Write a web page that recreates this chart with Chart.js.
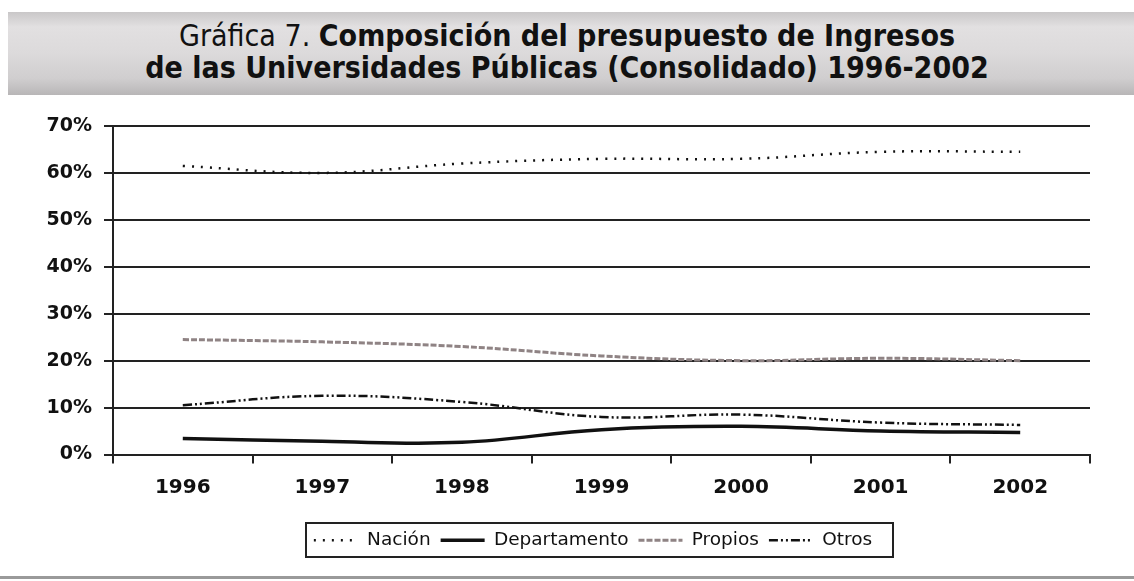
<!DOCTYPE html>
<html>
<head>
<meta charset="utf-8">
<script src="https://cdn.jsdelivr.net/npm/chart.js@4.4.0/dist/chart.umd.min.js"></script>
<style>
  html, body { margin: 0; padding: 0; background: #fff; }
  body { width: 1134px; height: 581px; position: relative; overflow: hidden; }
  #band {
    position: absolute; left: 8px; top: 12px; width: 1126px; height: 83px;
    background: linear-gradient(180deg, #c9c7c8 0%, #e2e0e1 18%, #dcdadb 50%, #d0cecf 80%, #b8b6b7 100%);
  }
  #title {
    position: absolute; left: 0; top: 20px; width: 1134px; text-align: center;
    font-family: "DejaVu Sans", sans-serif; font-stretch: condensed;
    font-size: 30px; line-height: 32px; color: #111;
  }
  #title b { font-weight: bold; }
  #bottomline { position: absolute; left: 0; top: 576px; width: 1134px; height: 3px; background: #9a9a9a; }
  #wrap { position: absolute; left: 0; top: 100px; width: 1134px; height: 481px; }
</style>
</head>
<body>
<div id="band"></div>
<div id="title"><span>Gráfica 7.</span> <b>Composición del presupuesto de Ingresos</b><br><b>de las Universidades Públicas (Consolidado) 1996-2002</b></div>
<div id="bottomline"></div>
<div id="wrap"><canvas id="c" width="1134" height="481"></canvas></div>
<script>
const years = ["1996", "1997", "1998", "1999", "2000", "2001", "2002"];
const nacion = [61.5, 60.0, 62.0, 63.0, 63.0, 64.5, 64.5];
const departamento = [3.4, 2.8, 2.6, 5.3, 6.0, 5.0, 4.7];
const propios = [24.5, 24.0, 23.0, 21.0, 20.0, 20.5, 20.0];
const otros = [10.5, 12.5, 11.2, 8.0, 8.5, 6.8, 6.3];
const yTicks = [0, 10, 20, 30, 40, 50, 60, 70];

const legendPlace = {
  id: 'legendPlace',
  afterLayout(chart) {
    const L = chart.legend;
    const h = L.bottom - L.top;
    L.left += 48; L.right += 48;
    L.top = 421; L.bottom = 421 + h;
  },
  afterDraw(chart) {
    const ctx = chart.ctx;
    ctx.save();
    ctx.strokeStyle = '#222';
    ctx.lineWidth = 2;
    ctx.strokeRect(306, 423, 587, 34);
    ctx.restore();
  }
};

new Chart(document.getElementById('c'), {
  type: 'line',
  data: {
    labels: years,
    datasets: [
      { label: 'Nación', data: nacion, borderColor: '#111', borderWidth: 2.5, borderDash: [2, 7], tension: 0.4, pointRadius: 0, pointStyle: 'line', fill: false },
      { label: 'Departamento', data: departamento, borderColor: '#111', borderWidth: 3.5, tension: 0.4, pointRadius: 0, pointStyle: 'line', fill: false },
      { label: 'Propios', data: propios, borderColor: '#8f8384', borderWidth: 3, borderDash: [6, 2], tension: 0.4, pointRadius: 0, pointStyle: 'line', fill: false },
      { label: 'Otros', data: otros, borderColor: '#111', borderWidth: 2.5, borderDash: [9, 3, 2, 3, 2, 3], tension: 0.4, pointRadius: 0, pointStyle: 'line', fill: false }
    ]
  },
  options: {
    responsive: false,
    animation: false,
    layout: { padding: { top: 26, right: 44, left: 0, bottom: 14 } },
    plugins: {
      title: { display: false },
      tooltip: { enabled: false },
      legend: {
        position: 'bottom',
        labels: {
          usePointStyle: true,
          pointStyleWidth: 44,
          boxHeight: 10,
          padding: 10,
          color: '#111',
          font: { family: 'DejaVu Sans, sans-serif', size: 18.5 },
          generateLabels(chart) {
            const items = Chart.defaults.plugins.legend.labels.generateLabels(chart);
            items.forEach(it => {
              const ds = chart.data.datasets[it.datasetIndex];
              it.lineDash = ds.borderDash || [];
              it.lineWidth = ds.borderWidth;
              it.strokeStyle = ds.borderColor;
              it.pointStyle = 'line';
            });
            return items;
          }
        }
      }
    },
    scales: {
      x: {
        offset: true,
        grid: { display: true, drawOnChartArea: false, offset: true, color: '#222', lineWidth: 2, tickLength: 9 },
        border: { color: '#222', width: 2 },
        ticks: { color: '#111', padding: 12, font: { family: 'DejaVu Sans, sans-serif', size: 20, weight: 'bold' } },
        afterFit(scale) { scale.height = 74; }
      },
      y: {
        min: 0, max: 70,
        afterBuildTicks(scale) { scale.ticks = yTicks.map(v => ({ value: v })); },
        grid: { color: '#222', lineWidth: 2, tickLength: 9 },
        border: { color: '#222', width: 2 },
        ticks: { color: '#111', padding: 12, callback: v => v + '%', font: { family: 'DejaVu Sans, sans-serif', size: 19, weight: 'bold' } },
        afterFit(scale) { scale.width = 113; }
      }
    }
  },
  plugins: [legendPlace]
});
</script>
</body>
</html>
